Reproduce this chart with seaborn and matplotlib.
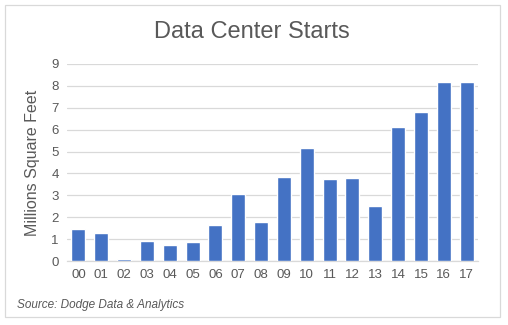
import matplotlib
matplotlib.use("Agg")
import matplotlib.pyplot as plt
import seaborn as sns
import pandas as pd
from matplotlib.patches import Rectangle

years = ["00", "01", "02", "03", "04", "05", "06", "07", "08", "09",
         "10", "11", "12", "13", "14", "15", "16", "17"]
starts = [1.45, 1.27, 0.08, 0.90, 0.72, 0.86, 1.64, 3.06, 1.77, 3.84,
          5.17, 3.74, 3.80, 2.52, 6.13, 6.82, 8.19, 8.19]
y_ticks = [0, 1, 2, 3, 4, 5, 6, 7, 8, 9]

df = pd.DataFrame({"year": years, "starts": starts})

sns.set_theme(style="white")
plt.rcParams["font.family"] = ["Liberation Sans", "DejaVu Sans"]

text_color = "#595959"
fig = plt.figure(figsize=(5.08, 3.25), dpi=100)
ax = fig.add_axes([67 / 508, 1 - 261 / 325, (478 - 67) / 508, (261 - 64) / 325])

sns.barplot(data=df, x="year", y="starts", color="#4472C4", saturation=1,
            width=0.62, ax=ax, zorder=3)

ax.set_ylim(0, 9)
ax.set_yticks(y_ticks)
ax.yaxis.grid(True, color="#d9d9d9", linewidth=0.9, zorder=0)
ax.set_axisbelow(True)
for side in ["top", "right", "left"]:
    ax.spines[side].set_visible(False)
ax.spines["bottom"].set_color("#d9d9d9")
ax.spines["bottom"].set_linewidth(0.9)
ax.tick_params(axis="both", length=0, labelsize=9.5, colors=text_color, pad=6)
ax.set_xlabel("")
ax.set_ylabel("Millions Square Feet", fontsize=11.5, color=text_color, labelpad=8)

fig.text(0.496, 1 - 32 / 325, "Data Center Starts", ha="center", va="center",
         fontsize=17, color=text_color)
fig.text(17 / 508, 1 - 305 / 325, "Source: Dodge Data & Analytics", ha="left",
         va="center", fontsize=8.5, style="italic", color=text_color)

fig.patches.append(Rectangle((5 / 508, 1 - 317 / 325), 495 / 508, 312 / 325,
                             transform=fig.transFigure, fill=False,
                             edgecolor="#d9d9d9", linewidth=0.9))

fig.savefig("out.png", dpi=100)
